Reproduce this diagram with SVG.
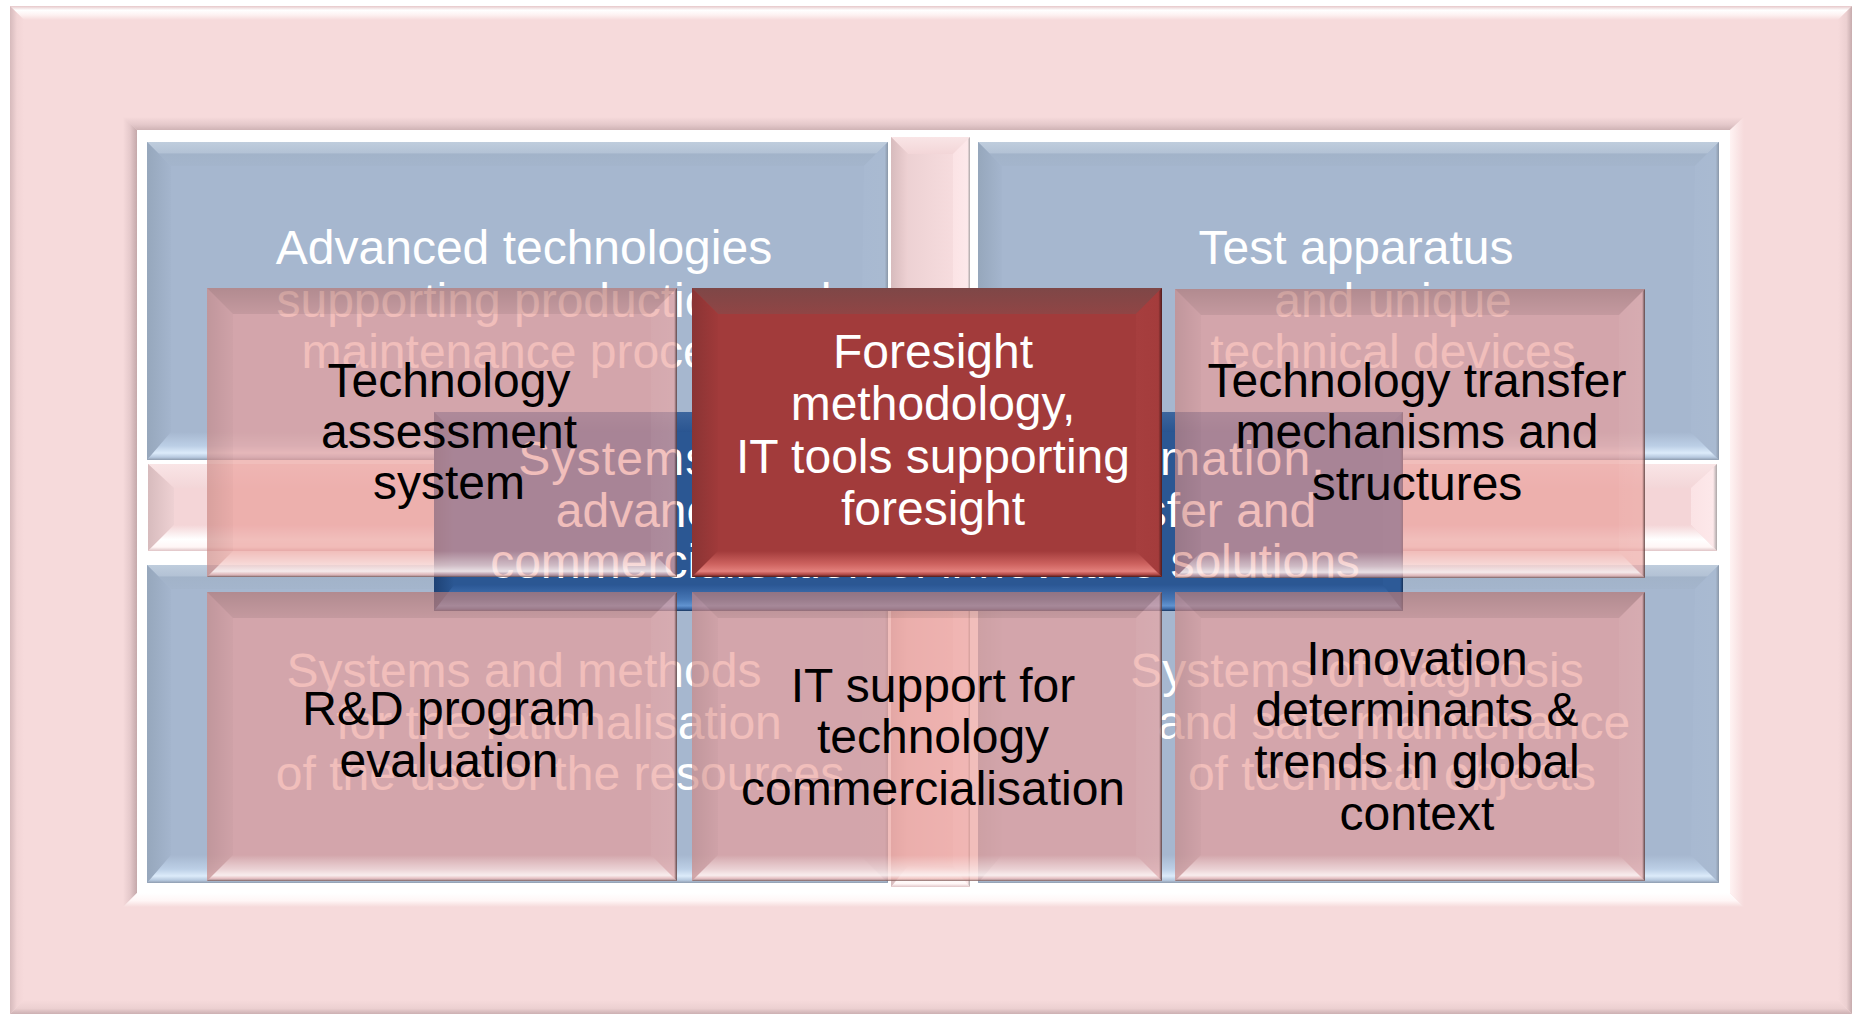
<svg xmlns="http://www.w3.org/2000/svg" width="1855" height="1016" viewBox="0 0 1855 1016">
<defs>
<style>
.t{font-family:"Liberation Sans",Arial,Helvetica,sans-serif;font-size:48px;text-anchor:middle}
.w{fill:#ffffff}
.k{fill:#000000}
</style>
<!-- frame bevels -->
<linearGradient id="fOT" x1="0" y1="0" x2="0" y2="1"><stop offset="0" stop-color="#e6c7c9"/><stop offset="0.3" stop-color="#ffffff"/><stop offset="0.65" stop-color="#fdf1f1"/><stop offset="1" stop-color="#f6dadb"/></linearGradient>
<linearGradient id="fOL" x1="0" y1="0" x2="1" y2="0"><stop offset="0" stop-color="#d6babc"/><stop offset="0.5" stop-color="#f1d4d5"/><stop offset="1" stop-color="#f6dadb"/></linearGradient>
<linearGradient id="fOR" x1="0" y1="0" x2="1" y2="0"><stop offset="0" stop-color="#f6dadb"/><stop offset="0.6" stop-color="#ecd0d1"/><stop offset="1" stop-color="#c6abad"/></linearGradient>
<linearGradient id="fOB" x1="0" y1="0" x2="0" y2="1"><stop offset="0" stop-color="#f6dadb"/><stop offset="0.6" stop-color="#ecd0d1"/><stop offset="1" stop-color="#ccb0b2"/></linearGradient>
<linearGradient id="fIT" x1="0" y1="0" x2="0" y2="1"><stop offset="0" stop-color="#f6dadb"/><stop offset="0.6" stop-color="#e4c8ca"/><stop offset="1" stop-color="#cfb3b5"/></linearGradient>
<linearGradient id="fIL" x1="0" y1="0" x2="1" y2="0"><stop offset="0" stop-color="#f6dadb"/><stop offset="0.5" stop-color="#e5c9cb"/><stop offset="1" stop-color="#c4a8aa"/></linearGradient>
<linearGradient id="fIB" x1="0" y1="0" x2="0" y2="1"><stop offset="0" stop-color="#ffffff"/><stop offset="0.55" stop-color="#fff6f6"/><stop offset="1" stop-color="#f6dadb"/></linearGradient>
<linearGradient id="fIR" x1="0" y1="0" x2="1" y2="0"><stop offset="0" stop-color="#fff3f3"/><stop offset="1" stop-color="#f6dadb"/></linearGradient>
<!-- blue quadrant bevels -->
<linearGradient id="bqT" x1="0" y1="0" x2="0" y2="1"><stop offset="0" stop-color="#bfcddd"/><stop offset="0.45" stop-color="#b3c2d5"/><stop offset="0.5" stop-color="#a2b3c9"/><stop offset="1" stop-color="#a4b5cc"/></linearGradient>
<linearGradient id="bqL" x1="0" y1="0" x2="1" y2="0"><stop offset="0" stop-color="#96a7bc"/><stop offset="1" stop-color="#a4b5cd"/></linearGradient>
<linearGradient id="bqR" x1="0" y1="0" x2="1" y2="0"><stop offset="0" stop-color="#a8b9d1"/><stop offset="0.88" stop-color="#a9bad1"/><stop offset="1" stop-color="#8a97a8"/></linearGradient>
<linearGradient id="bqB" x1="0" y1="0" x2="0" y2="1"><stop offset="0" stop-color="#a6b7cf"/><stop offset="0.5" stop-color="#bccfe6"/><stop offset="0.75" stop-color="#dcebfa"/><stop offset="0.9" stop-color="#b7c9df"/><stop offset="1" stop-color="#8e9caf"/></linearGradient>
<!-- pink bar bevels -->
<linearGradient id="brT" x1="0" y1="0" x2="0" y2="1"><stop offset="0" stop-color="#f9e5e6"/><stop offset="1" stop-color="#f3d6d8"/></linearGradient>
<linearGradient id="brL" x1="0" y1="0" x2="1" y2="0"><stop offset="0" stop-color="#d7bbbd"/><stop offset="1" stop-color="#eed1d3"/></linearGradient>
<linearGradient id="brR" x1="0" y1="0" x2="1" y2="0"><stop offset="0" stop-color="#fbe3e5"/><stop offset="0.85" stop-color="#fde8ea"/><stop offset="1" stop-color="#aba5a6"/></linearGradient>
<linearGradient id="brB" x1="0" y1="0" x2="0" y2="1"><stop offset="0" stop-color="#f4d5d7"/><stop offset="0.55" stop-color="#ffffff"/><stop offset="0.85" stop-color="#fff6f6"/><stop offset="1" stop-color="#e0c4c6"/></linearGradient>
<linearGradient id="brV" x1="0" y1="0" x2="1" y2="0"><stop offset="0" stop-color="#e9cdcf"/><stop offset="1" stop-color="#fae0e2"/></linearGradient>
<!-- translucent pink box bevels -->
<linearGradient id="pkT" x1="0" y1="0" x2="0" y2="1"><stop offset="0" stop-color="#000" stop-opacity="0.16"/><stop offset="1" stop-color="#000" stop-opacity="0.07"/></linearGradient>
<linearGradient id="pkL" x1="0" y1="0" x2="1" y2="0"><stop offset="0" stop-color="#000" stop-opacity="0.09"/><stop offset="1" stop-color="#000" stop-opacity="0.02"/></linearGradient>
<linearGradient id="pkR" x1="0" y1="0" x2="1" y2="0"><stop offset="0" stop-color="#fff" stop-opacity="0.04"/><stop offset="0.88" stop-color="#fff" stop-opacity="0.07"/><stop offset="0.92" stop-color="#000" stop-opacity="0.15"/><stop offset="1" stop-color="#000" stop-opacity="0.55"/></linearGradient>
<linearGradient id="pkB" x1="0" y1="0" x2="0" y2="1"><stop offset="0" stop-color="#fff" stop-opacity="0"/><stop offset="0.55" stop-color="#fff" stop-opacity="0.45"/><stop offset="0.78" stop-color="#fff" stop-opacity="0.75"/><stop offset="0.9" stop-color="#fff" stop-opacity="0.2"/><stop offset="1" stop-color="#000" stop-opacity="0.45"/></linearGradient>
<!-- red box bevels -->
<linearGradient id="rdT" x1="0" y1="0" x2="0" y2="1"><stop offset="0" stop-color="#7e4747"/><stop offset="1" stop-color="#904545"/></linearGradient>
<linearGradient id="rdL" x1="0" y1="0" x2="1" y2="0"><stop offset="0" stop-color="#8a3434"/><stop offset="1" stop-color="#a03a3a"/></linearGradient>
<linearGradient id="rdR" x1="0" y1="0" x2="1" y2="0"><stop offset="0" stop-color="#a63e3e"/><stop offset="0.86" stop-color="#a43c3c"/><stop offset="1" stop-color="#4e1c1c"/></linearGradient>
<linearGradient id="rdB" x1="0" y1="0" x2="0" y2="1"><stop offset="0" stop-color="#a23b3b"/><stop offset="0.5" stop-color="#cd625f"/><stop offset="0.78" stop-color="#e3807c"/><stop offset="0.9" stop-color="#b34a48"/><stop offset="1" stop-color="#4a1a1a"/></linearGradient>
<!-- central blue bevels -->
<linearGradient id="cbT" x1="0" y1="0" x2="0" y2="1"><stop offset="0" stop-color="#3d669e"/><stop offset="1" stop-color="#2a5591"/></linearGradient>
<linearGradient id="cbL" x1="0" y1="0" x2="1" y2="0"><stop offset="0" stop-color="#1e4275"/><stop offset="1" stop-color="#2b5793"/></linearGradient>
<linearGradient id="cbR" x1="0" y1="0" x2="1" y2="0"><stop offset="0" stop-color="#2d5a97"/><stop offset="0.85" stop-color="#2d5a97"/><stop offset="1" stop-color="#16325a"/></linearGradient>
<linearGradient id="cbB" x1="0" y1="0" x2="0" y2="1"><stop offset="0" stop-color="#2b5795"/><stop offset="0.55" stop-color="#4676b4"/><stop offset="0.8" stop-color="#6193d0"/><stop offset="0.92" stop-color="#3b68a5"/><stop offset="1" stop-color="#1a3760"/></linearGradient>

<g id="bevQ">
<rect width="741" height="318" fill="#a6b7cf"/>
<polygon points="0,0 741,0 717,24 24,24" fill="url(#bqT)"/>
<polygon points="0,0 24,24 24,290 0,318" fill="url(#bqL)"/>
<polygon points="741,0 717,24 713,290 741,318" fill="url(#bqR)"/>
<polygon points="0,318 24,290 713,290 741,318" fill="url(#bqB)"/>
</g>
<g id="bevP">
<rect width="470" height="289" fill="#e99c98" fill-opacity="0.66"/>
<polygon points="0,0 470,0 444,26 26,26" fill="url(#pkT)"/>
<polygon points="0,0 26,26 26,263 0,289" fill="url(#pkL)"/>
<polygon points="470,0 444,26 444,263 470,289" fill="url(#pkR)"/>
<polygon points="0,289 26,263 444,263 470,289" fill="url(#pkB)"/>
</g>
</defs>

<rect width="1855" height="1016" fill="#ffffff"/>

<g id="frame">
<path d="M10,6 H1852 V1014 H10 Z M137,130 V893 H1730 V130 Z" fill="#f6dadb" fill-rule="evenodd"/>
<polygon points="10,6 1852,6 1838,20 24,20" fill="url(#fOT)"/>
<polygon points="10,6 24,20 24,1000 10,1014" fill="url(#fOL)"/>
<polygon points="1852,6 1838,20 1838,1000 1852,1014" fill="url(#fOR)"/>
<polygon points="10,1014 24,1000 1838,1000 1852,1014" fill="url(#fOB)"/>
<polygon points="123,117 1744,117 1730,130 137,130" fill="url(#fIT)"/>
<polygon points="123,117 137,130 137,893 123,907" fill="url(#fIL)"/>
<polygon points="137,893 1730,893 1744,907 123,907" fill="url(#fIB)"/>
<polygon points="1730,130 1744,117 1744,907 1730,893" fill="url(#fIR)"/>
</g>

<g id="quad-tl"><use href="#bevQ" x="147" y="142"/></g>
<g id="quad-tr"><use href="#bevQ" x="978" y="142"/></g>
<g id="quad-bl"><use href="#bevQ" x="147" y="565"/></g>
<g id="quad-br"><use href="#bevQ" x="978" y="565"/></g>

<g id="cross-h">
<rect x="148" y="464" width="1569" height="87" fill="#f4d5d7"/>
<polygon points="148,464 1717,464 1691,488 174,488" fill="url(#brT)"/>
<polygon points="148,464 174,488 174,525 148,551" fill="url(#brL)"/>
<polygon points="1717,464 1691,488 1691,525 1717,551" fill="url(#brR)"/>
<polygon points="148,551 174,525 1691,525 1717,551" fill="url(#brB)"/>
</g>
<g id="cross-v">
<rect x="891" y="137" width="79" height="750" fill="url(#brV)"/>
<polygon points="891,137 970,137 953,154 908,154" fill="url(#brT)"/>
<polygon points="891,137 908,154 908,866 891,887" fill="url(#brL)"/>
<polygon points="970,137 953,154 953,866 970,887" fill="url(#brR)"/>
<polygon points="891,887 908,866 953,866 970,887" fill="url(#brB)"/>
</g>

<g id="quad-texts">
<text class="t w" x="524" y="264">Advanced technologies</text>
<text class="t w" x="554" y="317">supporting production and</text>
<text class="t w" x="555" y="368">maintenance processes</text>
<text class="t w" x="1356" y="264">Test apparatus</text>
<text class="t w" x="1393" y="317">and unique</text>
<text class="t w" x="1393" y="368">technical devices</text>
<text class="t w" x="524" y="687">Systems and methods</text>
<text class="t w" x="559" y="739">for the rationalisation</text>
<text class="t w" x="560" y="790">of the use of the resources</text>
<text class="t w" x="1357" y="687">Systems of diagnosis</text>
<text class="t w" x="1394" y="739">and safe maintenance</text>
<text class="t w" x="1392" y="790">of technical objects</text>
</g>

<g id="center-box">
<rect x="434" y="412" width="969" height="199" fill="#2b5793"/>
<polygon points="434,412 1403,412 1383,432 454,432" fill="url(#cbT)"/>
<polygon points="434,412 454,432 454,585 434,611" fill="url(#cbL)"/>
<polygon points="1403,412 1383,432 1383,585 1403,611" fill="url(#cbR)"/>
<polygon points="434,611 454,585 1383,585 1403,611" fill="url(#cbB)"/>
<text class="t w" x="922" y="475" letter-spacing="1.2">Systems supporting the information,</text>
<text class="t w" x="936" y="527">advanced technologies transfer and</text>
<text class="t w" x="925" y="578">commercialisation of innovative solutions</text>
</g>

<g id="box-tl">
<use href="#bevP" x="207" y="288"/>
<text class="t k" x="449" y="397">Technology</text>
<text class="t k" x="449" y="448">assessment</text>
<text class="t k" x="449" y="499">system</text>
</g>

<g id="box-tc">
<rect x="692" y="288" width="470" height="289" fill="#a23b3b"/>
<polygon points="692,288 1162,288 1136,314 718,314" fill="url(#rdT)"/>
<polygon points="692,288 718,314 718,551 692,577" fill="url(#rdL)"/>
<polygon points="1162,288 1136,314 1136,551 1162,577" fill="url(#rdR)"/>
<polygon points="692,577 718,551 1136,551 1162,577" fill="url(#rdB)"/>
<text class="t w" x="933" y="368">Foresight</text>
<text class="t w" x="933" y="420">methodology,</text>
<text class="t w" x="933" y="473">IT tools supporting</text>
<text class="t w" x="933" y="525">foresight</text>
</g>

<g id="box-tr">
<use href="#bevP" x="1175" y="289"/>
<text class="t k" x="1417" y="397">Technology transfer</text>
<text class="t k" x="1417" y="448">mechanisms and</text>
<text class="t k" x="1417" y="500">structures</text>
</g>

<g id="box-bl">
<use href="#bevP" x="207" y="592"/>
<text class="t k" x="449" y="725">R&amp;D program</text>
<text class="t k" x="449" y="777">evaluation</text>
</g>

<g id="box-bc">
<use href="#bevP" x="692" y="592"/>
<text class="t k" x="933" y="702">IT support for</text>
<text class="t k" x="933" y="753">technology</text>
<text class="t k" x="933" y="805">commercialisation</text>
</g>

<g id="box-br">
<use href="#bevP" x="1175" y="592"/>
<text class="t k" x="1417" y="675">Innovation</text>
<text class="t k" x="1417" y="726">determinants &amp;</text>
<text class="t k" x="1417" y="778">trends in global</text>
<text class="t k" x="1417" y="830">context</text>
</g>

<g id="connectors"/>
</svg>
